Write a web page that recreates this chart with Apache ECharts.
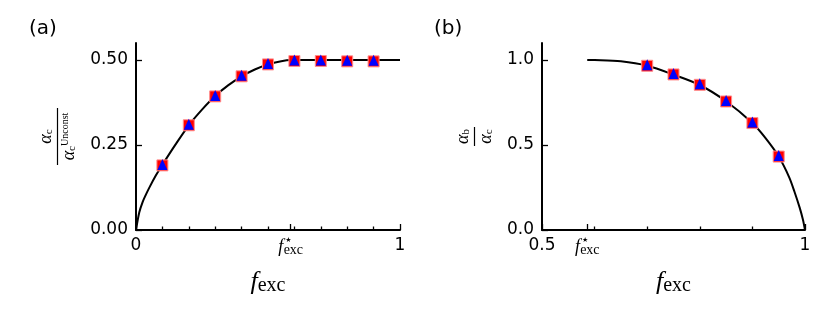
<!DOCTYPE html>
<html>
<head>
<meta charset="UTF-8">
<title>f_exc panels</title>
<script type="text/javascript" src="https://cdn.jsdelivr.net/npm/echarts@6/dist/echarts.min.js"></script>
</head>
<body style="margin:0;background:#fff;">
<div id="main" style="width:830px;height:320px;"></div>

<script type="text/javascript">
var mychart = echarts.init(document.getElementById('main'));

// position of f_exc* on both x axes
var fStar = 0.586;

// panel (a): solid curve
var curveAx = [0, 0.0125, 0.025, 0.0375, 0.05, 0.075, 0.1, 0.15, 0.2, 0.25, 0.3, 0.35, 0.4, 0.45, 0.5, 0.55, 0.586, 0.7, 0.8, 0.9, 1];
var curveAy = [0, 0.052, 0.082, 0.104, 0.124, 0.160, 0.192, 0.252, 0.308, 0.354, 0.394, 0.426, 0.452, 0.472, 0.487, 0.4965, 0.5, 0.5, 0.5, 0.5, 0.5];
// panel (a): markers
var ptsAx = [0.1, 0.2, 0.3, 0.4, 0.5, 0.6, 0.7, 0.8, 0.9];
var sqAy  = [0.190, 0.308, 0.393, 0.452, 0.487, 0.497, 0.497, 0.496, 0.496];
var triAy = [0.190, 0.308, 0.393, 0.452, 0.487, 0.497, 0.497, 0.496, 0.496];

// panel (b): solid curve
var curveBx = [0.586, 0.6, 0.65, 0.7, 0.75, 0.8, 0.85, 0.9, 0.925, 0.95, 0.97, 0.98, 0.99, 0.996, 1];
var curveBy = [1.0, 0.9995, 0.992, 0.966, 0.914, 0.853, 0.757, 0.629, 0.54, 0.432, 0.31, 0.225, 0.13, 0.062, 0];
// panel (b): markers
var ptsBx = [0.7, 0.75, 0.8, 0.85, 0.9, 0.95];
var sqBy  = [0.966, 0.915, 0.854, 0.756, 0.629, 0.432];
var triBy = [0.966, 0.915, 0.854, 0.756, 0.629, 0.432];

// ticks
var majorA = [0, fStar, 1];
var minorA = [0.1, 0.2, 0.3, 0.4, 0.5, 0.6, 0.7, 0.8, 0.9];
var majorB = [0.5, fStar, 1];
var minorB = [0.6, 0.7, 0.8, 0.9];
var yTicksA = [0, 0.25, 0.5];
var yTicksB = [0, 0.5, 1.0];

function pairs(xs, ys) {
    var out = [];
    for (var i = 0; i < xs.length; i++) out.push([xs[i], ys[i]]);
    return out;
}

var serif = 'Liberation Serif';
var sans = 'DejaVu Sans';

var fStarRich = {
    f:  {fontFamily: serif, fontStyle: 'italic', fontSize: 18, lineHeight: 20, color: '#000'},
    st: {fontFamily: sans, fontSize: 7, lineHeight: 14, verticalAlign: 'top', color: '#000', padding: [0, 0, 0, 2]},
    s:  {fontFamily: serif, fontSize: 14, lineHeight: 14, verticalAlign: 'bottom', color: '#000', padding: [0, 0, 0, -8]}
};
var nameRich = {
    f: {fontFamily: serif, fontStyle: 'italic', fontSize: 26, lineHeight: 28, color: '#000'},
    s: {fontFamily: serif, fontSize: 20, lineHeight: 22, verticalAlign: 'bottom', color: '#000'}
};

function xMajor(grid, min, labels, ticks, label0) {
    return {
        gridIndex: grid, type: 'value', min: min, max: 1, position: 'bottom',
        axisLine: {lineStyle: {color: '#000', width: 2}},
        axisTick: {inside: true, length: 6, customValues: ticks, lineStyle: {color: '#000', width: 1.3}},
        axisLabel: {
            customValues: labels, margin: 7, color: '#000', fontFamily: sans, fontSize: 17,
            formatter: function (v) {
                if (v === 1) return '1';
                if (v === min) return label0;
                return '{f|f}{st|\u2605}{s|exc}';
            },
            rich: fStarRich
        },
        splitLine: {show: false},
        name: '{f|f}{s|exc}', nameLocation: 'middle', nameGap: 38,
        nameTextStyle: {rich: nameRich}
    };
}
function xMinor(grid, min, ticks) {
    return {
        gridIndex: grid, type: 'value', min: min, max: 1, position: 'bottom',
        axisLine: {show: false},
        axisTick: {inside: true, length: 3.5, customValues: ticks, lineStyle: {color: '#000', width: 1.3}},
        axisLabel: {show: false},
        splitLine: {show: false}
    };
}
function yAxis(grid, max, ticks, digits, name, rich, gap) {
    return {
        gridIndex: grid, type: 'value', min: 0, max: max,
        axisLine: {show: true, lineStyle: {color: '#000', width: 2}},
        axisTick: {show: true, inside: true, length: 6, customValues: ticks, lineStyle: {color: '#000', width: 1.3}},
        axisLabel: {
            customValues: ticks, margin: 8, color: '#000', fontFamily: sans, fontSize: 17,
            formatter: function (v) { return v.toFixed(digits); }
        },
        splitLine: {show: false},
        name: name, nameLocation: 'middle', nameGap: gap,
        nameTextStyle: {rich: rich}
    };
}

var fracRichA = {
    n:  {fontFamily: serif, fontStyle: 'italic', fontSize: 18, lineHeight: 18, align: 'center', color: '#000'},
    ns: {fontFamily: serif, fontSize: 11, lineHeight: 11, verticalAlign: 'bottom', align: 'center', color: '#000'},
    bar: {width: 57, height: 1.2, lineHeight: 5, backgroundColor: '#000', align: 'center'},
    du: {fontFamily: serif, fontSize: 10, lineHeight: 10, verticalAlign: 'top', align: 'center', color: '#000'}
};
var fracRichB = {
    n:  {fontFamily: serif, fontStyle: 'italic', fontSize: 18, lineHeight: 18, align: 'center', color: '#000'},
    ns: {fontFamily: serif, fontSize: 11, lineHeight: 11, verticalAlign: 'bottom', align: 'center', color: '#000'},
    bar: {width: 19, height: 1.2, lineHeight: 5, backgroundColor: '#000', align: 'center'}
};

function curve(idx, data) {
    return {type: 'line', xAxisIndex: idx * 2, yAxisIndex: idx, data: data, showSymbol: false,
            smooth: 0.3, lineStyle: {color: '#000', width: 2}, z: 2, silent: true};
}
function squares(idx, data) {
    return {type: 'scatter', xAxisIndex: idx * 2, yAxisIndex: idx, data: data, symbol: 'rect', symbolSize: 11,
            itemStyle: {color: '#ff0000', borderColor: '#ff8c8c', borderWidth: 1, opacity: 1}, z: 3};
}
function triangles(idx, data) {
    return {type: 'scatter', xAxisIndex: idx * 2, yAxisIndex: idx, data: data, symbol: 'triangle', symbolSize: [10, 11],
            symbolOffset: [0, -1], itemStyle: {color: '#0000ff', opacity: 1}, z: 4};
}

var option = {
    animation: false,
    backgroundColor: '#fff',
    title: [
        {text: '(a)', left: 29, top: 19, padding: 0, textStyle: {fontFamily: sans, fontWeight: 'normal', fontSize: 20, color: '#000'}},
        {text: '(b)', left: 434, top: 19, padding: 0, textStyle: {fontFamily: sans, fontWeight: 'normal', fontSize: 20, color: '#000'}}
    ],
    grid: [
        {left: 136, top: 43, width: 264, height: 187},
        {left: 542, top: 43, width: 263, height: 187}
    ],
    xAxis: [
        xMajor(0, 0, majorA, majorA, '0'),
        xMinor(0, 0, minorA),
        xMajor(1, 0.5, majorB, majorB, '0.5'),
        xMinor(1, 0.5, minorB)
    ],
    yAxis: [
        yAxis(0, 0.55, yTicksA, 2, '{n|\u03b1}{ns|c}\n{bar|}\n{n|\u03b1}{ns|c}{du|Unconst}', fracRichA, 58),
        yAxis(1, 1.1, yTicksB, 1, '{n|\u03b1}{ns|b}\n{bar|}\n{n|\u03b1}{ns|c}', fracRichB, 47)
    ],
    series: [
        curve(0, pairs(curveAx, curveAy)),
        squares(0, pairs(ptsAx, sqAy)),
        triangles(0, pairs(ptsAx, triAy)),
        curve(1, pairs(curveBx, curveBy)),
        squares(1, pairs(ptsBx, sqBy)),
        triangles(1, pairs(ptsBx, triBy))
    ]
};

mychart.setOption(option);
</script>
</body>
</html>
